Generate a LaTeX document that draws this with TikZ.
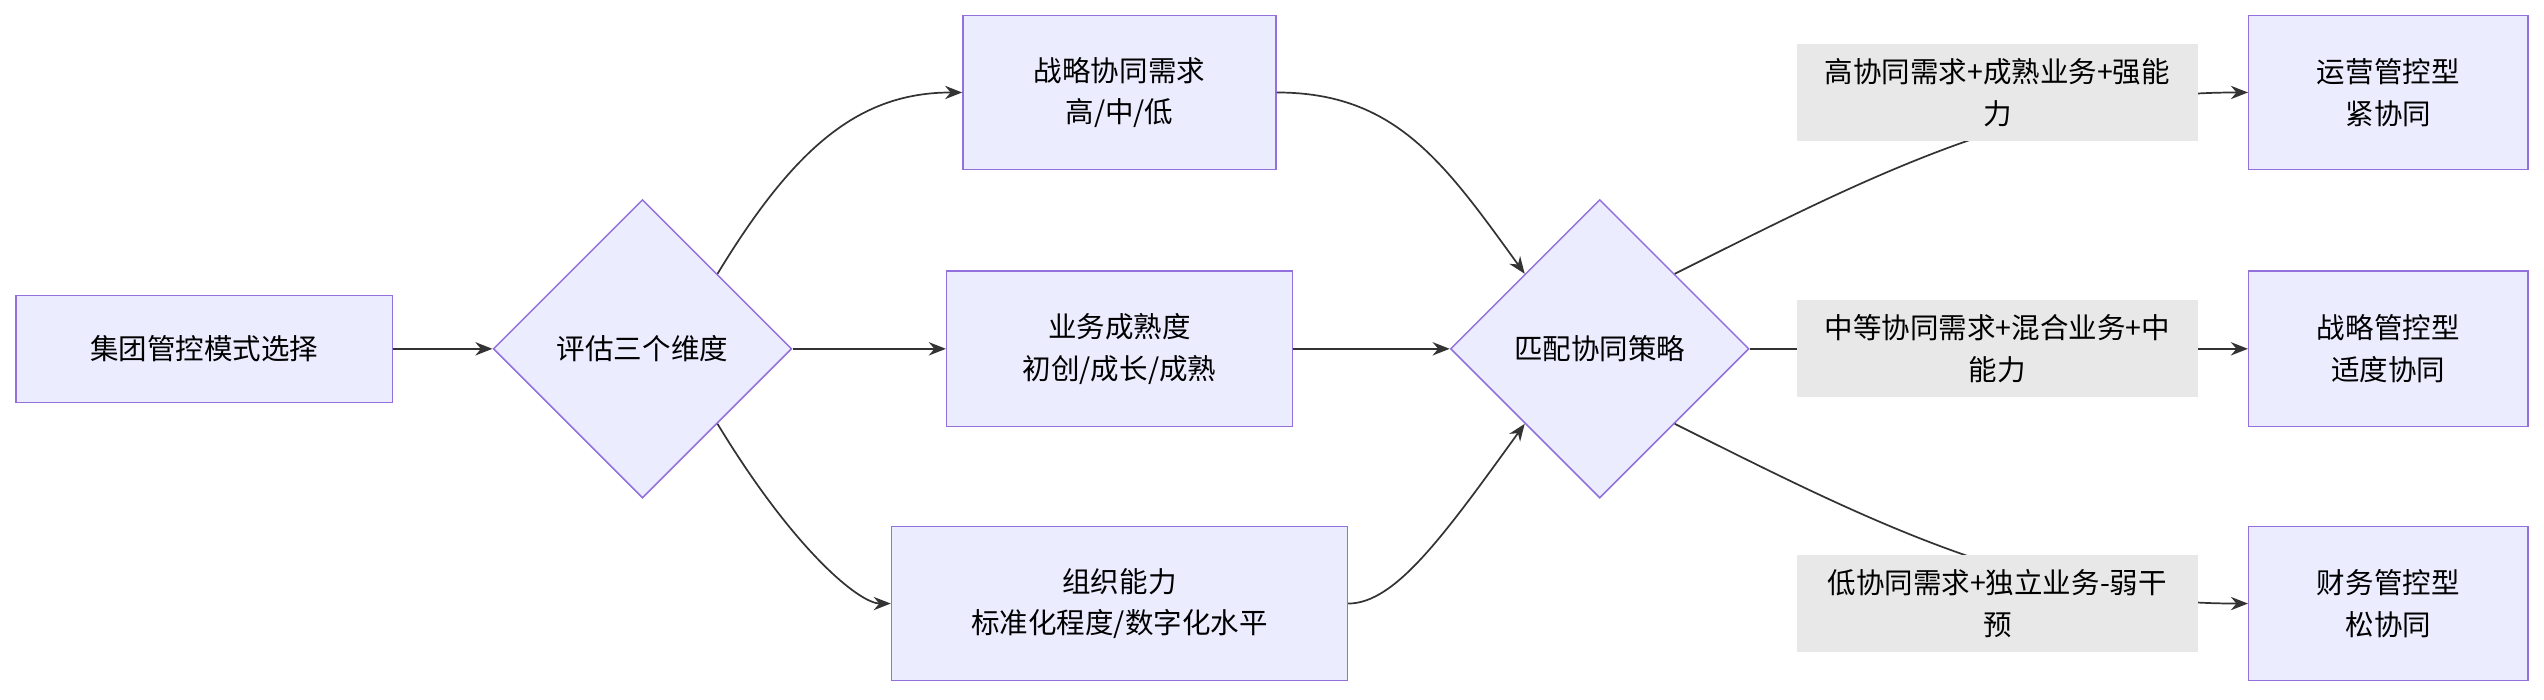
\documentclass[tikz,border=0pt]{standalone}
\usepackage{fontspec}
\setmainfont{Noto Sans CJK SC}
\usetikzlibrary{shapes.geometric,arrows.meta}
\definecolor{nfill}{HTML}{ECECFF}
\definecolor{nline}{HTML}{9370DB}
\definecolor{lfill}{HTML}{E8E8E8}
\definecolor{eline}{HTML}{333333}
\begin{document}
\begin{tikzpicture}[x=0.03cm,y=-0.03cm,
  box/.style={draw=nline,fill=nfill,line width=0.8pt,align=center,font=\fontsize{15}{22}\selectfont,inner sep=0},
  dia/.style={draw=nline,fill=nfill,line width=0.8pt,diamond,minimum width=5.52cm,minimum height=5.52cm,inner sep=0,font=\fontsize{15}{22}\selectfont},
  lab/.style={fill=lfill,align=center,font=\fontsize{15}{22}\selectfont,minimum width=7.41cm,minimum height=1.8cm,inner sep=0},
  edge/.style={draw=eline,line width=0.9pt,-{Stealth[length=9pt,width=7pt]}}]
\useasboundingbox (0,0) rectangle (1568,431);
\node[box,minimum width=6.96cm,minimum height=1.98cm] (A) at (126,215) {集团管控模式选择};
\node[dia] (B) at (396,215) {评估三个维度};
\node[box,minimum width=5.79cm,minimum height=2.85cm] (C1) at (690,57) {战略协同需求\\高/中/低};
\node[box,minimum width=6.39cm,minimum height=2.88cm] (C2) at (690,215) {业务成熟度\\初创/成长/成熟};
\node[box,minimum width=8.43cm,minimum height=2.85cm] (C3) at (690,372) {组织能力\\标准化程度/数字化水平};
\node[dia] (D) at (986,215) {匹配协同策略};
\node[box,minimum width=5.16cm,minimum height=2.85cm] (E1) at (1472,57) {运营管控型\\紧协同};
\node[box,minimum width=5.16cm,minimum height=2.88cm] (E2) at (1472,215) {战略管控型\\适度协同};
\node[box,minimum width=5.16cm,minimum height=2.85cm] (E3) at (1472,372) {财务管控型\\松协同};
\draw[edge] (A) -- (B);
\draw[edge] (B) -- (C2);
\draw[edge] (B.north east) .. controls (490,90) and (530,57) .. (C1.west);
\draw[edge] (B.south east) .. controls (490,340) and (530,372) .. (C3.west);
\draw[edge] (C1.east) .. controls (860,57) and (890,100) .. (D.north west);
\draw[edge] (C2) -- (D);
\draw[edge] (C3.east) .. controls (860,372) and (890,330) .. (D.south west);
\draw[edge] (D.north east) .. controls (1150,110) and (1250,57) .. (E1.west);
\draw[edge] (D) -- (E2);
\draw[edge] (D.south east) .. controls (1150,320) and (1250,372) .. (E3.west);
\node[lab] (L1) at (1231,57) {高协同需求+成熟业务+强能\\力};
\node[lab] (L2) at (1231,215) {中等协同需求+混合业务+中\\能力};
\node[lab] (L3) at (1231,372) {低协同需求+独立业务-弱干\\预};
\end{tikzpicture}
\end{document}
